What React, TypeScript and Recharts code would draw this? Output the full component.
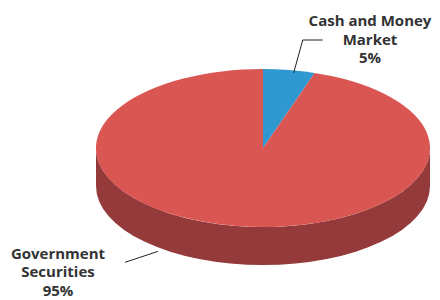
import { PieChart, Pie, Cell } from "recharts"

const categories = ["Cash and Money Market", "Government Securities"]
const shares = [5, 95]
const labelLines = [["Cash and Money", "Market", "5%"], ["Government", "Securities", "95%"]]

const topColors = ["#2f98d0", "#d95652"]
const sideColors = ["#1f6e99", "#943a3a"]

const data = categories.map((name, i) => ({ name, value: shares[i] }))

const TILT = 0.473
const DEPTH = 38
const RAD = Math.PI / 180

function pt(cx: number, cy: number, rx: number, ry: number, deg: number) {
  return [cx + rx * Math.cos(deg * RAD), cy + ry * Math.sin(deg * RAD)]
}

// draws one slice as a tilted disc segment (top face + visible outer wall)
function Slice3D(props: any) {
  const { cx, cy, outerRadius, startAngle, endAngle, index } = props
  const rx = outerRadius
  const ry = outerRadius * TILT
  // screen angles, y down, increasing clockwise
  const a = -Math.max(startAngle, endAngle)
  const b = -Math.min(startAngle, endAngle)
  const [x1, y1] = pt(cx, cy, rx, ry, a)
  const [x2, y2] = pt(cx, cy, rx, ry, b)
  const large = b - a > 180 ? 1 : 0
  const top = `M${cx},${cy} L${x1},${y1} A${rx},${ry} 0 ${large} 1 ${x2},${y2} Z`

  const walls: string[] = []
  for (const off of [-360, 0, 360]) {
    const s = Math.max(a, off)
    const e = Math.min(b, off + 180)
    if (e > s) {
      const [sx, sy] = pt(cx, cy, rx, ry, s)
      const [ex, ey] = pt(cx, cy, rx, ry, e)
      const l = e - s > 180 ? 1 : 0
      walls.push(
        `M${sx},${sy} A${rx},${ry} 0 ${l} 1 ${ex},${ey} L${ex},${ey + DEPTH} A${rx},${ry} 0 ${l} 0 ${sx},${sy + DEPTH} Z`
      )
    }
  }
  const i = index ?? 0
  return (
    <g>
      {walls.map((d, k) => (
        <path key={k} d={d} fill={sideColors[i]} />
      ))}
      <path d={top} fill={topColors[i]} />
    </g>
  )
}

function renderLabel(props: any) {
  const { cx, cy, outerRadius, index } = props
  const rx = outerRadius
  const ry = outerRadius * TILT
  const lines = labelLines[index]
  const textStyle = {
    fontFamily: "'Open Sans', sans-serif",
    fontWeight: 700,
    fontSize: 15,
    fill: "#333",
  }
  if (index === 0) {
    const [px, py] = pt(cx, cy, rx, ry, -78)
    const tx = cx + 107
    return (
      <g>
        <polyline
          points={`${px - 4},${py + 2} ${px + 5},${cy - 108} ${px + 25},${cy - 108}`}
          fill="none"
          stroke="#222"
          strokeWidth={1}
        />
        {lines.map((t, k) => (
          <text key={k} x={tx} y={cy - 122 + k * 18.5} textAnchor="middle" style={textStyle}>
            {t}
          </text>
        ))}
      </g>
    )
  }
  const [px, py] = pt(cx, cy, rx, ry, 129)
  const tx = 58
  return (
    <g>
      <line x1={px} y1={py + DEPTH + 4} x2={px - 33} y2={py + DEPTH + 15} stroke="#222" strokeWidth={1} />
      {lines.map((t, k) => (
        <text key={k} x={tx} y={cy + 110.5 + k * 18.5} textAnchor="middle" style={textStyle}>
          {t}
        </text>
      ))}
    </g>
  )
}

export default function App() {
  return (
    <PieChart width={440} height={300} margin={{ top: 0, right: 0, bottom: 0, left: 0 }} style={{ marginLeft: -8, marginTop: -8 }}>
      <Pie
        data={data}
        dataKey="value"
        nameKey="name"
        cx={263}
        cy={148}
        outerRadius={167}
        startAngle={90}
        endAngle={-270}
        stroke="none"
        shape={Slice3D}
        label={renderLabel}
        labelLine={false}
        isAnimationActive={false}
      >
        {data.map((d, i) => (
          <Cell key={d.name} fill={topColors[i]} />
        ))}
      </Pie>
    </PieChart>
  )
}
